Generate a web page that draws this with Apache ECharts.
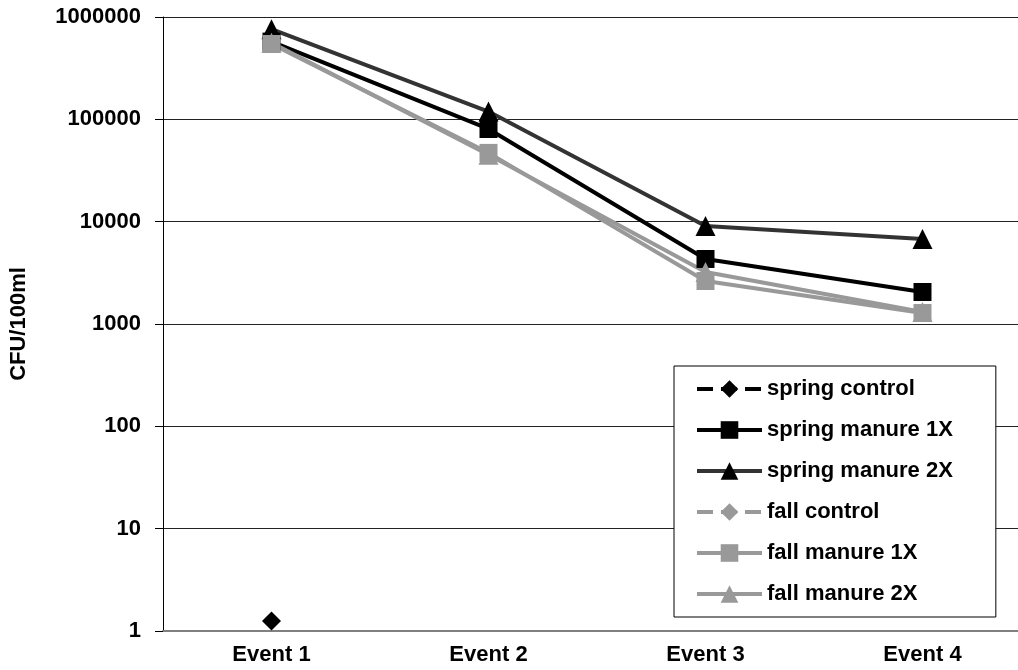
<!DOCTYPE html>
<html>
<head>
<meta charset="utf-8">
<script src="https://cdn.jsdelivr.net/npm/echarts@6/dist/echarts.min.js"></script>
<style>
  html, body { margin: 0; padding: 0; background: #fff; }
  #chart { width: 1018px; height: 670px; }
</style>
</head>
<body>
<div id="chart"></div>
<script>
// Sampling events
const categories = ['Event 1', 'Event 2', 'Event 3', 'Event 4'];

// CFU/100ml per event
const springControl = [1.25, null, null, null];
const springManure1X = [575000, 80500, 4320, 2055];
const springManure2X = [760000, 119000, 9080, 6770];
const fallControl = [null, null, null, null];
const fallManure1X = [545000, 47000, 2630, 1280];
const fallManure2X = [560000, 45000, 3220, 1310];

// Log-axis tick labels
const yTickLabels = { 1: '1', 10: '10', 100: '100', 1000: '1000', 10000: '10000', 100000: '100000', 1000000: '1000000' };

const FONT = '"Liberation Sans", Arial, sans-serif';
const GRAY = '#999999';

function lineSeries(name, data, color, symbol, opts) {
  opts = opts || {};
  return {
    name: name,
    type: 'line',
    data: data,
    symbol: symbol,
    symbolSize: opts.symbolSize || 18,
    connectNulls: false,
    lineStyle: { color: color, width: 4, type: opts.dashed ? 'dashed' : 'solid' },
    itemStyle: { color: opts.markerColor || color },
    emphasis: { disabled: true },
    animation: false
  };
}

const chart = echarts.init(document.getElementById('chart'), null, { renderer: 'canvas' });
chart.setOption({
  backgroundColor: '#ffffff',
  grid: { left: 163, right: -13, top: 17, bottom: 39, containLabel: false, outerBoundsMode: 'none' },
  legend: {
    orient: 'vertical',
    left: 674,
    top: 366,
    padding: [12, 43, 12, 21],
    itemGap: 19,
    itemWidth: 65,
    itemHeight: 22,
    backgroundColor: '#ffffff',
    borderColor: '#000000',
    borderWidth: 1,
    selectedMode: false,
    lineStyle: { width: 4 },
    textStyle: { fontFamily: FONT, fontWeight: 'bold', fontSize: 22, color: '#000' }
  },
  xAxis: {
    type: 'category',
    data: categories,
    boundaryGap: true,
    axisLine: { show: true, lineStyle: { color: '#808080', width: 2 } },
    axisTick: { show: false },
    axisLabel: { margin: 13, fontFamily: FONT, fontWeight: 'bold', fontSize: 22, color: '#000' },
    splitLine: { show: false }
  },
  yAxis: {
    type: 'log',
    logBase: 10,
    min: 1,
    max: 1000000,
    name: 'CFU/100ml',
    nameLocation: 'middle',
    nameRotate: 90,
    nameGap: 133,
    nameTextStyle: { fontFamily: FONT, fontWeight: 'bold', fontSize: 22, color: '#000' },
    axisLine: { show: true, lineStyle: { color: '#000', width: 1 } },
    axisTick: { show: true, inside: false, length: 8, lineStyle: { color: '#000' } },
    axisLabel: {
      margin: 22,
      fontFamily: FONT, fontWeight: 'bold', fontSize: 22, color: '#000',
      formatter: v => yTickLabels[Math.round(v)] || ''
    },
    minorTick: { show: false },
    splitLine: { show: true, lineStyle: { color: '#222', width: 1 } }
  },
  series: [
    lineSeries('spring control', springControl, '#000000', 'diamond', { dashed: true, symbolSize: 19 }),
    lineSeries('spring manure 1X', springManure1X, '#000000', 'rect'),
    lineSeries('spring manure 2X', springManure2X, '#333333', 'triangle', { markerColor: '#000000', symbolSize: 20 }),
    lineSeries('fall control', fallControl, GRAY, 'diamond', { dashed: true, symbolSize: 19 }),
    lineSeries('fall manure 1X', fallManure1X, GRAY, 'rect'),
    lineSeries('fall manure 2X', fallManure2X, GRAY, 'triangle', { symbolSize: 20 })
  ]
});
</script>
</body>
</html>
